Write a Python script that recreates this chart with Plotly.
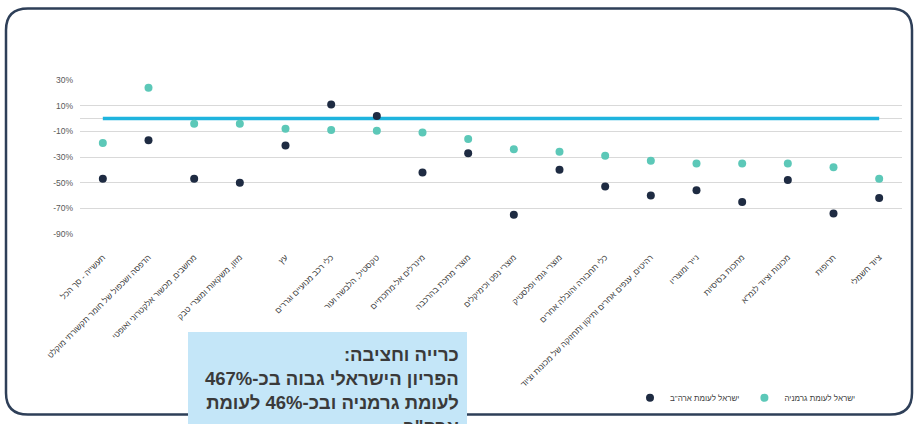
import plotly.graph_objects as go

# ענפי התעשייה
categories = [
    "תעשייה - סך הכל",
    "הדפסה ושכפול של חומר תקשורתי מוקלט",
    "מחשבים, מכשור אלקטרוני ואופטי",
    "מזון, משקאות ומוצרי טבק",
    "עץ",
    "כלי רכב מנועיים וגררים",
    "טקסטיל, הלבשה ועור",
    "מינרלים אל-מתכתיים",
    "מוצרי מתכת בהרכבה",
    "מוצרי נפט וכימיקלים",
    "מוצרי גומי ופלסטיק",
    "כלי תחבורה והובלה אחרים",
    "רהיטים, ענפים אחרים ותיקון ותחזוקה של מכונות וציוד",
    "נייר ומוצריו",
    "מתכות בסיסיות",
    "מכונות וציוד לנמ\"א",
    "תרופות",
    "ציוד חשמלי",
]

# פער פריון (%)
israel_vs_germany = [-19, 24, -4, -4, -8, -9, -9.5, -11, -16, -24, -26, -29,
                     -33, -35, -35, -35, -38, -47]
israel_vs_usa = [-47, -17, -47, -50, -21, 11, 2, -42, -27, -75, -40, -53,
                 -60, -56, -65, -48, -74, -62]
parity = [0] * len(categories)

y_ticks = [-90, -70, -50, -30, -10, 10, 30]
y_tick_text = [f"{v}%" for v in y_ticks]

box_lines = [
    "כרייה וחציבה:\u200f",
    "הפריון הישראלי גבוה בכ-467%",
    "לעומת גרמניה ובכ-46% לעומת",
    "ארה\"ב",
]

W, H = 915, 424
L, R, T, B = 80, 13, 80, 187


def px(x):
    return (x - L) / (W - L - R)


def py(y):
    return (H - B - y) / (H - T - B)


def rounded_path(x0, y0, x1, y1, r):
    pts = [
        ("M", x0, y0 + r), ("Q", x0, y0, x0 + r, y0), ("L", x1 - r, y0),
        ("Q", x1, y0, x1, y0 + r), ("L", x1, y1 - r), ("Q", x1, y1, x1 - r, y1),
        ("L", x0 + r, y1), ("Q", x0, y1, x0, y1 - r),
    ]
    out = []
    for p in pts:
        cmd, vals = p[0], p[1:]
        coords = []
        for i in range(0, len(vals), 2):
            coords.append(f"{px(vals[i]):.5f},{py(vals[i + 1]):.5f}")
        out.append(cmd + " " + " ".join(coords))
    return " ".join(out) + " Z"


font = "Liberation Sans, DejaVu Sans, Arial"

fig = go.Figure()
fig.add_trace(go.Scatter(
    x=categories, y=parity, mode="lines",
    line=dict(color="#1fb4de", width=3.5),
    showlegend=False, hoverinfo="skip",
))
fig.add_trace(go.Scatter(
    x=categories, y=israel_vs_usa, mode="markers",
    name="ישראל לעומת ארה\"ב",
    marker=dict(color="#1e2b42", size=8),
))
fig.add_trace(go.Scatter(
    x=categories, y=israel_vs_germany, mode="markers",
    name="ישראל לעומת גרמניה",
    marker=dict(color="#5cc8b8", size=8),
))

fig.add_shape(type="path", xref="paper", yref="paper",
              path=rounded_path(6, 7, 912, 421, 22),
              line=dict(color="#2e3f58", width=2.5), layer="above")
fig.add_shape(type="rect", xref="paper", yref="paper",
              x0=px(188), x1=px(467), y0=py(445), y1=py(337),
              fillcolor="#c4e6f8", line=dict(width=0), layer="above")
fig.add_annotation(
    xref="paper", yref="paper", x=px(461), y=py(347),
    xanchor="right", yanchor="top", align="right", showarrow=False,
    text="<br>".join(f"<b>{s}</b>" for s in box_lines),
    font=dict(family=font, size=18.5, color="#3a3a3a"),
)

fig.update_layout(
    width=W, height=H,
    margin=dict(l=L, r=R, t=T, b=B),
    plot_bgcolor="white", paper_bgcolor="white",
    font=dict(family=font, color="#595959"),
    showlegend=True,
    legend=dict(orientation="h", x=px(630), y=py(404),
                xanchor="left", yanchor="middle",
                font=dict(size=8, color="#404040"),
                itemwidth=30, bgcolor="rgba(0,0,0,0)"),
    xaxis=dict(type="category", range=[-0.5, len(categories) - 0.5],
               tickangle=-45, showgrid=False,
               tickfont=dict(size=8.3, color="#404040"),
               ticklabelstandoff=16, automargin=False, showline=False),
    yaxis=dict(range=[-90, 30], tickvals=y_ticks, ticktext=y_tick_text,
               showgrid=True, gridcolor="#d9d9d9", gridwidth=1,
               zeroline=True, zerolinecolor="#d9d9d9", zerolinewidth=1,
               tickfont=dict(size=8.5, color="#595959"),
               ticklabelstandoff=6, automargin=False, showline=False),
)

fig.write_html("out.html", config={"displayModeBar": False},
               post_script="document.body.style.margin='0';")
